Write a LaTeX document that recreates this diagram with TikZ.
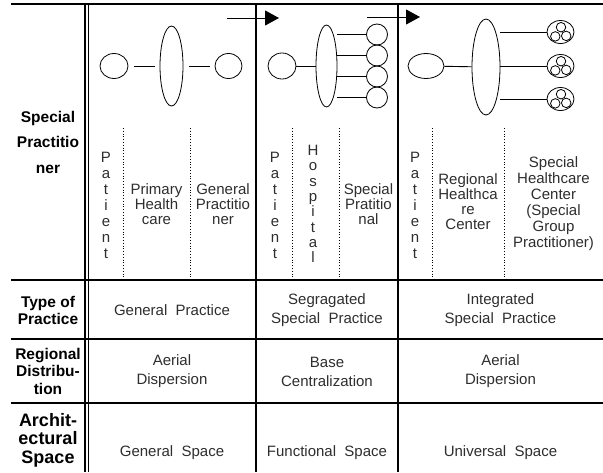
\documentclass[tikz,border=0pt]{standalone}
\usepackage{fontspec}
\setmainfont{Liberation Sans}
\usetikzlibrary{arrows.meta,shapes.geometric}
\begin{document}
\begin{tikzpicture}[x=1pt,y=-1pt,
  rule/.style={line width=1.3pt},
  toprule/.style={line width=1.8pt},
  conn/.style={line width=0.9pt},
  gap/.style={conn, shorten <=6pt, shorten >=5pt},
  dots/.style={dotted, line width=0.8pt},
  shp/.style={draw, line width=0.8pt, inner sep=0pt},
  oval/.style={shp, ellipse},
  rnd/.style={shp, circle},
  lab/.style={font=\fontsize{15.5}{17.5}\selectfont\bfseries, align=center, inner sep=0pt},
  cell/.style={text=black!82, font=\fontsize{15}{19}\selectfont, align=center, inner sep=0pt},
  top/.style={text=black!82, font=\fontsize{15}{15}\selectfont, align=center, inner sep=0pt},
  vert/.style={text=black!82, font=\fontsize{15}{16}\selectfont, align=center, inner sep=0pt},
  arr/.style={line width=1pt, -{Triangle[length=14pt,width=15pt]}}
]
\useasboundingbox (0,0) rectangle (603,472);
\fill[white] (0,0) rectangle (603,472);

% table rules
\draw[toprule] (11,4) -- (603,4);
\draw[rule] (11,280) -- (603,280);
\draw[rule] (11,339) -- (603,339);
\draw[rule] (11,403) -- (603,403);
\draw[rule] (85,4) -- (85,472);
\draw[rule] (88.5,4) -- (88.5,472);
\draw[rule] (256,4) -- (256,472);
\draw[rule] (398,4) -- (398,472);

% dotted separators
\draw[dots] (123,128) -- (123,280);
\draw[dots] (190,128) -- (190,280);
\draw[dots] (292,128) -- (292,280);
\draw[dots] (339,128) -- (339,280);
\draw[dots] (432,128) -- (432,280);
\draw[dots] (504,128) -- (504,280);

% arrows
\coordinate (a1s) at (227,18);
\coordinate (a1e) at (279,18);
\coordinate (a2s) at (367,17);
\coordinate (a2e) at (420,17);
\draw[arr] (a1s) -- (a1e);
\draw[arr] (a2s) -- (a2e);

% column 1 shapes
\node[oval, minimum width=28pt, minimum height=25pt] (c1p) at (114,66) {};
\node[oval, minimum width=23pt, minimum height=80pt] (c1h) at (171.5,66) {};
\node[oval, minimum width=27pt, minimum height=25pt] (c1g) at (228.5,66) {};
\draw[gap] (c1p) -- (c1h);
\draw[gap] (c1h) -- (c1g);

% column 2 shapes
\node[oval, minimum width=28pt, minimum height=26pt] (c2p) at (282,66) {};
\node[oval, minimum width=21pt, minimum height=82pt] (c2h) at (326.5,66) {};
\node[rnd, minimum size=21pt] (s1) at (377,34.5) {};
\node[rnd, minimum size=21pt] (s2) at (377,55.5) {};
\node[rnd, minimum size=21pt] (s3) at (377,76.5) {};
\node[rnd, minimum size=21pt] (s4) at (377,97.5) {};
\draw[conn] (c2p) -- (c2h);
\draw[conn] (c2h.east |- s1) -- (s1);
\draw[conn] (c2h.east |- s2) -- (s2);
\draw[conn] (c2h.east |- s3) -- (s3);
\draw[conn] (c2h.east |- s4) -- (s4);

% column 3 shapes
\node[oval, minimum width=36pt, minimum height=25pt] (c3p) at (426,66) {};
\node[oval, minimum width=28pt, minimum height=96pt] (c3h) at (486,67) {};
\foreach \n/\y in {g1/32, g2/66, g3/99} {
  \node[oval, minimum width=27pt, minimum height=23pt] (\n) at (560.5,\y) {};
  \node[rnd, minimum size=9.5pt] (\n a) at (561,\y-4.8) {};
  \node[rnd, minimum size=9.5pt] (\n b) at (555.3,\y+4.4) {};
  \node[rnd, minimum size=9.5pt] (\n c) at (566.2,\y+3.9) {};
}
\draw[conn] (c3p) -- (c3h);
\draw[conn] (c3h.east |- g1) -- (g1);
\draw[conn] (c3h.east |- g2) -- (g2);
\draw[conn] (c3h.east |- g3) -- (g3);

% row labels
\node[lab, font=\fontsize{15.5}{25.5}\selectfont\bfseries] (l1) at (48,142) {Special\\Practitio\\ner};
\node[lab] (l2) at (48,310.5) {Type of\\Practice};
\node[lab] (l3) at (48,371) {Regional\\Distribu-\\tion};
\node[lab, font=\fontsize{18}{18.5}\selectfont\bfseries] (l4) at (48,440) {Archit-\\ectural\\Space};

% top row texts
\node[vert] (p1) at (106,205) {P\\a\\t\\i\\e\\n\\t};
\node[top] (t1) at (156.5,204) {Primary\\Health\\care};
\node[top] (t2) at (223,204) {General\\Practitio\\ner};
\node[vert] (p2) at (275,205) {P\\a\\t\\i\\e\\n\\t};
\node[vert, font=\fontsize{15}{15.3}\selectfont] (t3) at (313,204) {H\\o\\s\\p\\i\\t\\a\\l};
\node[top] (t4) at (368.5,204) {Special\\Pratitio\\nal};
\node[vert] (p3) at (415,205) {P\\a\\t\\i\\e\\n\\t};
\node[top] (t5) at (468,202) {Regional\\Healthca\\re\\Center};
\node[top, font=\fontsize{15}{16}\selectfont] (t6) at (553.5,204) {Special\\Healthcare\\Center\\(Special\\Group\\Practitioner)};

% second row
\node[cell] (r2a) at (172,310) {General\ \ Practice};
\node[cell] (r2b) at (327,310) {Segragated\\Special\ \ Practice};
\node[cell] (r2c) at (500.5,310) {Integrated\\Special\ \ Practice};

% third row
\node[cell] (r3a) at (172,371.5) {Aerial\\Dispersion};
\node[cell] (r3b) at (327,371.5) {Base\\Centralization};
\node[cell] (r3c) at (500.5,371.5) {Aerial\\Dispersion};

% fourth row
\node[cell] (r4a) at (172,453) {General\ \ Space};
\node[cell] (r4b) at (327,453) {Functional\ \ Space};
\node[cell] (r4c) at (500.5,453) {Universal\ \ Space};
\end{tikzpicture}
\end{document}
